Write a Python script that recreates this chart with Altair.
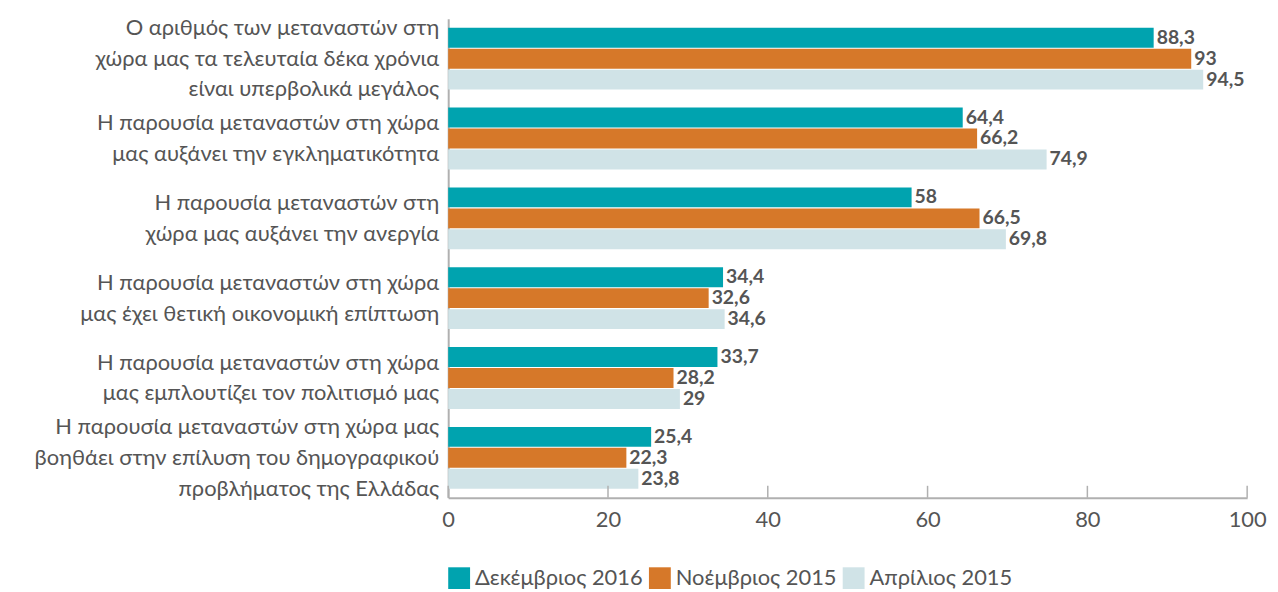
import altair as alt
import pandas as pd

categories = [
    "Ο αριθμός των μεταναστών στη|χώρα μας τα τελευταία δέκα χρόνια|είναι υπερβολικά μεγάλος",
    "Η παρουσία μεταναστών στη χώρα|μας αυξάνει την εγκληματικότητα",
    "Η παρουσία μεταναστών στη|χώρα μας αυξάνει την ανεργία",
    "Η παρουσία μεταναστών στη χώρα|μας έχει θετική οικονομική επίπτωση",
    "Η παρουσία μεταναστών στη χώρα|μας εμπλουτίζει τον πολιτισμό μας",
    "Η παρουσία μεταναστών στη χώρα μας|βοηθάει στην επίλυση του δημογραφικού|προβλήματος της Ελλάδας",
]
series = ["Δεκέμβριος 2016", "Νοέμβριος 2015", "Απρίλιος 2015"]
dec2016 = [88.3, 64.4, 58, 34.4, 33.7, 25.4]
nov2015 = [93, 66.2, 66.5, 32.6, 28.2, 22.3]
apr2015 = [94.5, 74.9, 69.8, 34.6, 29, 23.8]
colors = ["#00A3AF", "#D67829", "#D0E3E7"]
tick_values = [0, 20, 40, 60, 80, 100]

rows = []
for s, vals in zip(series, [dec2016, nov2015, apr2015]):
    for c, v in zip(categories, vals):
        txt = ("%g" % v).replace(".", ",")
        rows.append({"category": c, "series": s, "value": v, "label": txt})
df = pd.DataFrame(rows)

cat_df = pd.DataFrame({"category": categories,
                       "nlines": [c.count("|") + 1 for c in categories]})

W, H = 804, 482
FONT = "Lato"
GREY = "#555555"
LH = 31

y_enc = alt.Y("category:N", sort=categories,
              scale=alt.Scale(paddingInner=0, paddingOuter=0),
              axis=alt.Axis(title=None, ticks=False, labels=False, domain=True,
                            domainColor="#b0b0b0", domainWidth=2))
yoff = alt.YOffset("series:N", sort=series,
                   scale=alt.Scale(paddingInner=0.05, paddingOuter=0.43))
x_scale = alt.Scale(domain=[0, 100], nice=False)

bars = alt.Chart(df).mark_bar().encode(
    x=alt.X("value:Q", scale=x_scale,
            axis=alt.Axis(title=None, values=tick_values, ticks=False, grid=False,
                          domainColor="#b0b0b0", domainWidth=2, labelFont=FONT,
                          labelFontSize=22, labelColor=GREY, labelPadding=12,
                          labelFlush=False)),
    y=y_enc,
    yOffset=yoff,
    color=alt.Color("series:N", sort=series,
                    scale=alt.Scale(domain=series, range=colors),
                    legend=alt.Legend(title=None, orient="none", legendX=0, legendY=H + 70,
                                      direction="horizontal", symbolType="square",
                                      symbolSize=484, symbolStrokeWidth=0,
                                      labelFont=FONT, labelFontSize=22,
                                      labelColor=GREY, labelOffset=5,
                                      labelLimit=400, columnPadding=6)),
)

texts = alt.Chart(df).mark_text(align="left", baseline="middle", dx=3,
                                font=FONT, fontSize=19.5, fontWeight="bold",
                                color=GREY).encode(
    x=alt.X("value:Q", scale=x_scale),
    y=alt.Y("category:N", sort=categories),
    yOffset=alt.YOffset("series:N", sort=series),
    text="label:N",
)

def cat_layer(n):
    return alt.Chart(cat_df).transform_filter(
        alt.datum.nlines == n
    ).mark_text(align="right", baseline="middle", font=FONT, fontSize=22,
                color=GREY, lineBreak="|", lineHeight=LH,
                dy=-(n - 1) * LH / 2).encode(
        x=alt.value(-9),
        y=alt.Y("category:N", sort=categories),
        text="category:N",
    )

ticks_df = pd.DataFrame({"t": tick_values})
tick_marks = alt.Chart(ticks_df).mark_rule(color="#b0b0b0", strokeWidth=1.5).encode(
    x=alt.X("t:Q", scale=x_scale),
    y=alt.value(H - 12),
    y2=alt.value(H),
)

chart = alt.layer(bars, texts, cat_layer(3), cat_layer(2), tick_marks).properties(
    width=W, height=H,
    autosize=alt.AutoSizeParams(type="none"),
    padding={"left": 443, "top": 9, "right": 23, "bottom": 90},
).configure_view(stroke=None)

chart.save("out.html", embed_options={"renderer": "svg", "actions": False})
